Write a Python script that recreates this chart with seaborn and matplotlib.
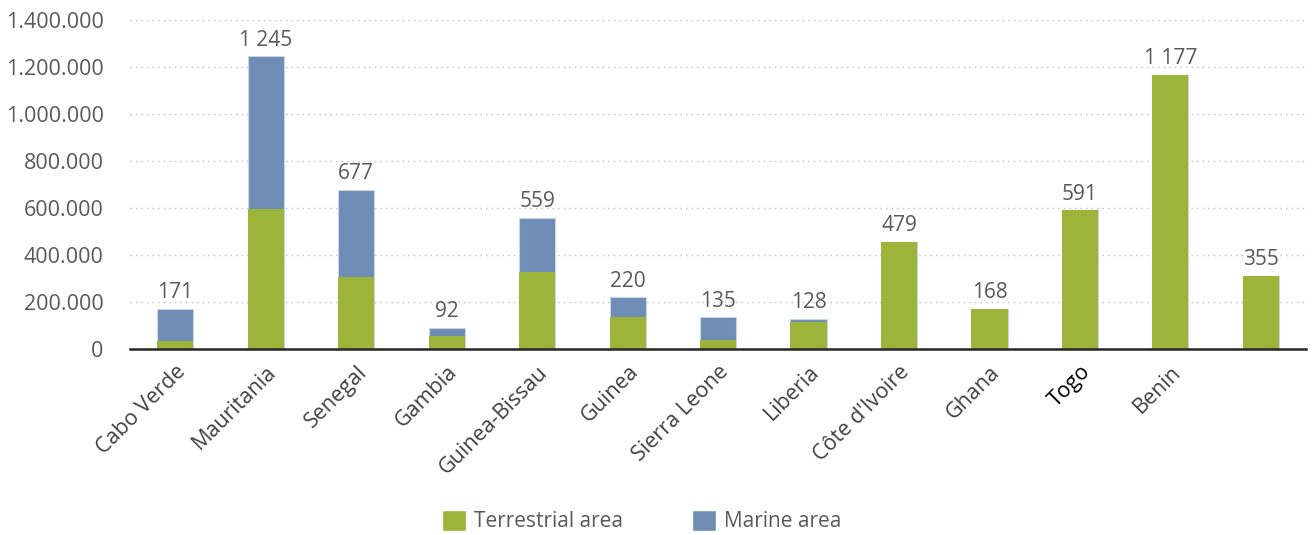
import numpy as np
import pandas as pd
import matplotlib.pyplot as plt
from matplotlib.patches import Patch
import matplotlib.ticker as mticker
import seaborn as sns

countries = ['Cabo Verde', 'Mauritania', 'Senegal', 'Gambia', 'Guinea-Bissau', 'Guinea',
             'Sierra Leone', 'Liberia', "Côte d'Ivoire", 'Ghana', 'Togo', 'Benin', '']
terrestrial = [35000, 597000, 306000, 56000, 328000, 136000, 38000, 115000,
               456000, 170000, 591000, 1167000, 311000]
marine = [136000, 648000, 371000, 35000, 230000, 84000, 97000, 13000,
          0, 0, 0, 0, 0]
value_labels = ['171', '1 245', '677', '92', '559', '220', '135', '128',
                '479', '168', '591', '1 177', '355']

green = '#9db43a'
blue = '#6f8db6'
grey_txt = '#595959'

df = pd.DataFrame({'country': [c if c else ' ' for c in countries],
                   'terrestrial': terrestrial, 'marine': marine})
df['total'] = df['terrestrial'] + df['marine']

sns.set_style('white')
plt.rcParams['font.family'] = ['Open Sans', 'DejaVu Sans']

fig = plt.figure(figsize=(13.15, 5.35), dpi=100)
ax = fig.add_axes([0.0989, 0.3477, 0.8943, 0.615])

sns.barplot(data=df, x='country', y='total', color=blue, width=0.4,
            saturation=1, ax=ax, edgecolor='#c9d5e6', linewidth=0.8, zorder=2)
sns.barplot(data=df, x='country', y='terrestrial', color=green, width=0.4,
            saturation=1, ax=ax, linewidth=0, zorder=3)

for i, (tot, lab) in enumerate(zip(df['total'], value_labels)):
    ax.annotate(lab, (i, tot), xytext=(0, 4), textcoords='offset points',
                ha='center', va='bottom', fontsize=15, color=grey_txt)

ax.set_xlim(-0.5, len(countries) - 0.5)
ax.set_ylim(0, 1400000)
ax.yaxis.set_major_locator(mticker.MultipleLocator(200000))
ax.yaxis.set_major_formatter(mticker.FuncFormatter(lambda v, p: f'{int(v):,}'.replace(',', '.')))
ax.grid(axis='y', linestyle=(0, (1, 3)), color='#bfbfbf', linewidth=1, zorder=0)
ax.set_axisbelow(True)
ax.set_xlabel('')
ax.set_ylabel('')

for s in ['top', 'right', 'left']:
    ax.spines[s].set_visible(False)
ax.spines['bottom'].set_color('#262626')
ax.spines['bottom'].set_linewidth(1.8)
ax.spines['bottom'].set_zorder(4)

ax.tick_params(axis='y', length=0, labelsize=15.5, labelcolor=grey_txt, pad=19)
ax.tick_params(axis='x', length=0, pad=9)
ax.set_xticks(range(len(countries)))
ax.set_xticklabels(countries, rotation=45, ha='right', rotation_mode='anchor',
                   fontsize=15.5, color='#404040')
for t in ax.get_xticklabels():
    if t.get_text() == 'Togo':
        t.set_color('black')

handles = [Patch(facecolor=green, label='Terrestrial area'),
           Patch(facecolor=blue, label='Marine area')]
fig.legend(handles=handles, loc='lower center', bbox_to_anchor=(0.488, -0.03), ncol=2,
           frameon=False, fontsize=15, labelcolor=grey_txt, handlelength=1.15,
           handleheight=1.2, columnspacing=3.3, handletextpad=0.4)

fig.savefig('out.png', dpi=100)
